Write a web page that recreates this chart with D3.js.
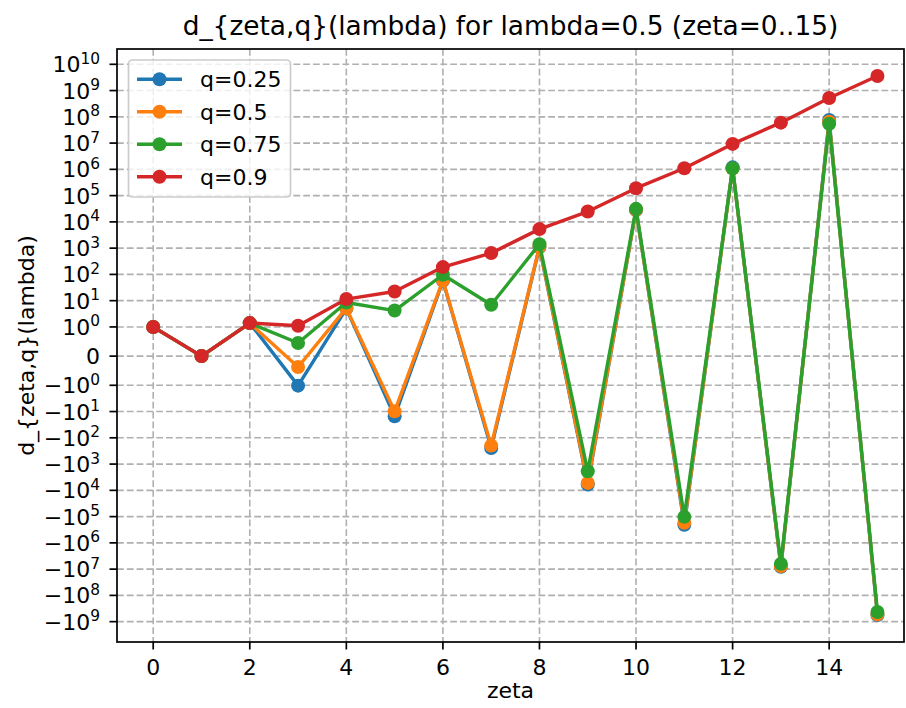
<!DOCTYPE html>
<html>
<head>
<meta charset="utf-8">
<script src="https://cdn.jsdelivr.net/npm/d3@7"></script>
<style>
  html, body { margin: 0; padding: 0; background: #fff; }
  svg { display: block; }
  text { font-family: "DejaVu Sans", sans-serif; fill: #000; }
</style>
</head>
<body>
<svg id="chart" width="906" height="708"></svg>
<script>
// ---- data ----
const zeta = [0, 1, 2, 3, 4, 5, 6, 7, 8, 9, 10, 11, 12, 13, 14, 15];
const seriesNames = ["q=0.25", "q=0.5", "q=0.75", "q=0.9"];
const seriesColors = ["#1f77b4", "#ff7f0e", "#2ca02c", "#d62728"];
const q025 = [1, 0, 1.4, -1.03, 5.0, -15.2, 57, -243, 1100, -6000, 28000, -2.06e5, 1.19e6, -8.1e6, 7.6e7, -5.6e8];
const q05  = [1, 0, 1.4, -0.373, 5.2, -9.8, 59, -198, 1150, -5200, 29000, -1.73e5, 1.08e6, -7.7e6, 6.5e7, -5.3e8];
const q075 = [1, 0, 1.4, 0.448, 8.5, 4.2, 97, 7.0, 1420, -1880, 31300, -1.02e5, 1.1e6, -6.3e6, 5.4e7, -4.3e8];
const q09  = [1, 0, 1.4, 1.11, 11.5, 22.4, 190, 647, 5300, 24700, 1.92e5, 1.1e6, 9.3e6, 6.0e7, 5.2e8, 3.6e9];
const seriesValues = [q025, q05, q075, q09];
const xTicks = [0, 2, 4, 6, 8, 10, 12, 14];
const yTickExps = [10, 9, 8, 7, 6, 5, 4, 3, 2, 1, 0];   // positive decades
const yTickNegExps = [0, 1, 2, 3, 4, 5, 6, 7, 8, 9];   // negative decades
const titleText = "d_{zeta,q}(lambda) for lambda=0.5 (zeta=0..15)";
const xLabel = "zeta";
const yLabel = "d_{zeta,q}(lambda)";

// ---- layout ----
const L = 117, R = 904, T = 49, B = 642;
const FS = 22;
const svg = d3.select("#chart");

// symlog transform (linthresh=1, linscale=1, base=10) as in matplotlib
const C = 1 / (1 - 1 / 10);
const sym = v => { const a = Math.abs(v); return a <= 1 ? v * C : Math.sign(v) * (C + Math.log10(a)); };

const all = seriesValues.flat().map(sym);
const tMin = d3.min(all), tMax = d3.max(all), span = tMax - tMin;
const yLin = d3.scaleLinear().domain([tMin - 0.05 * span, tMax + 0.05 * span]).range([B, T]);
const y = v => yLin(sym(v));
const x = d3.scaleLinear().domain([-0.75, 15.55]).range([L, R]);

// clip
svg.append("defs").append("clipPath").attr("id", "clip")
  .append("rect").attr("x", L).attr("y", T).attr("width", R - L).attr("height", B - T);

// y tick values
const yTicks = [];
yTickExps.forEach(e => yTicks.push({ v: Math.pow(10, e), neg: false, e: e }));
yTicks.push({ v: 0, zero: true });
yTickNegExps.forEach(e => yTicks.push({ v: -Math.pow(10, e), neg: true, e: e }));

// grid
const grid = svg.append("g").attr("stroke", "#b0b0b0").attr("stroke-width", 1.6)
  .attr("stroke-dasharray", "6.8,3");
xTicks.forEach(t => grid.append("line").attr("x1", x(t)).attr("x2", x(t)).attr("y1", T).attr("y2", B));
yTicks.forEach(t => grid.append("line").attr("x1", L).attr("x2", R).attr("y1", y(t.v)).attr("y2", y(t.v)));

// series
const line = d3.line().x((d, i) => x(zeta[i])).y(d => y(d));
const plot = svg.append("g").attr("clip-path", "url(#clip)");
seriesValues.forEach((vals, k) => {
  const g = plot.append("g");
  g.append("path").datum(vals).attr("d", line).attr("fill", "none")
    .attr("stroke", seriesColors[k]).attr("stroke-width", 3.4).attr("stroke-linejoin", "round").attr("stroke-linecap", "square");
  g.selectAll("circle").data(vals).enter().append("circle")
    .attr("cx", (d, i) => x(zeta[i])).attr("cy", d => y(d)).attr("r", 7)
    .attr("fill", seriesColors[k]);
});

// spines
svg.append("rect").attr("x", L).attr("y", T).attr("width", R - L).attr("height", B - T)
  .attr("fill", "none").attr("stroke", "#000").attr("stroke-width", 1.7);

// x axis ticks & labels
const xa = svg.append("g");
xTicks.forEach(t => {
  xa.append("line").attr("x1", x(t)).attr("x2", x(t)).attr("y1", B).attr("y2", B + 7.5)
    .attr("stroke", "#000").attr("stroke-width", 1.7);
  xa.append("text").attr("x", x(t)).attr("y", B + 33).attr("text-anchor", "middle")
    .attr("font-size", FS).text(t);
});

// y axis ticks & labels
const ya = svg.append("g");
yTicks.forEach(t => {
  const yy = y(t.v);
  ya.append("line").attr("x1", L - 7.5).attr("x2", L).attr("y1", yy).attr("y2", yy)
    .attr("stroke", "#000").attr("stroke-width", 1.7);
  const tx = ya.append("text").attr("x", L - 17).attr("y", yy + 8).attr("text-anchor", "end")
    .attr("font-size", FS);
  if (t.zero) { tx.text("0"); return; }
  tx.append("tspan").text((t.neg ? "\u2212" : "") + "10");
  tx.append("tspan").attr("dy", -8.5).attr("font-size", 15.4).text(String(t.e));
});

// title & labels
svg.append("text").attr("x", (L + R) / 2).attr("y", 35).attr("text-anchor", "middle")
  .attr("font-size", 26.4).text(titleText);
svg.append("text").attr("x", (L + R) / 2).attr("y", 698).attr("text-anchor", "middle")
  .attr("font-size", FS).text(xLabel);
svg.append("text").attr("transform", `translate(34,${(T + B) / 2}) rotate(-90)`)
  .attr("text-anchor", "middle").attr("font-size", FS).text(yLabel);

// legend
const lg = svg.append("g");
lg.append("rect").attr("x", 128.5).attr("y", 60).attr("width", 162).attr("height", 137)
  .attr("rx", 4).attr("fill", "#fff").attr("fill-opacity", 0.8).attr("stroke", "#cccccc").attr("stroke-width", 1.7);
seriesNames.forEach((name, k) => {
  const yy = 79.3 + k * 32.5;
  lg.append("line").attr("x1", 137).attr("x2", 182).attr("y1", yy).attr("y2", yy)
    .attr("stroke", seriesColors[k]).attr("stroke-width", 3.4);
  lg.append("circle").attr("cx", 159.5).attr("cy", yy).attr("r", 7).attr("fill", seriesColors[k]);
  lg.append("text").attr("x", 200).attr("y", yy + 8).attr("font-size", FS).text(name);
});
</script>
</body>
</html>
